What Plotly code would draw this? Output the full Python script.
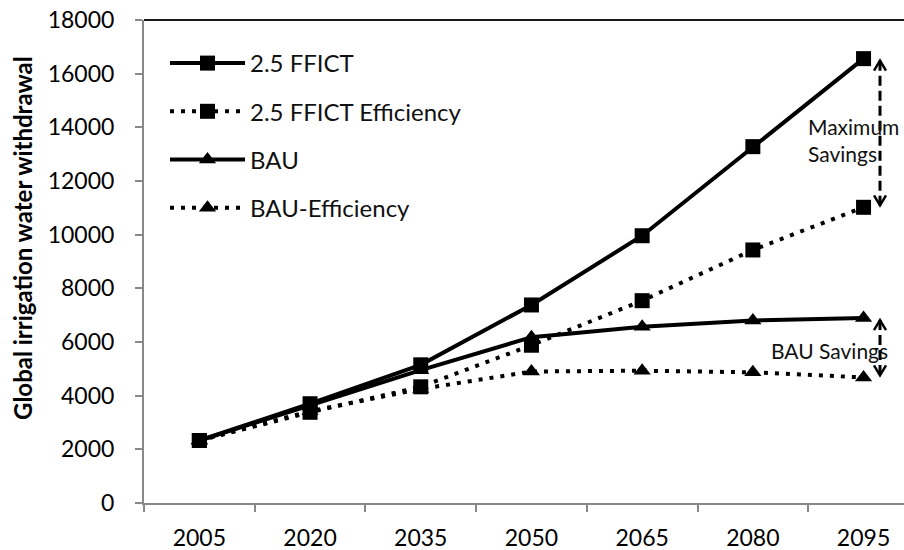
import plotly.graph_objects as go

years = ["2005", "2020", "2035", "2050", "2065", "2080", "2095"]
ffict = [2330, 3700, 5150, 7380, 9960, 13280, 16560]
ffict_eff = [2330, 3380, 4330, 5880, 7540, 9430, 11020]
bau = [2330, 3650, 4950, 6180, 6570, 6800, 6890]
bau_eff = [2330, 3420, 4250, 4900, 4930, 4870, 4680]
names = ["2.5 FFICT", "2.5 FFICT Efficiency", "BAU", "BAU-Efficiency"]

W, H = 904, 550
L, R, T, B = 144, 0, 20, 47
YMAX = 18000
FONT = "Lato"

fig = go.Figure()
series = [(ffict, "square", "solid"), (ffict_eff, "square", "4px,7px"),
          (bau, "triangle-up", "solid"), (bau_eff, "triangle-up", "4px,7px")]
for i, (vals, sym, dash) in enumerate(series):
    fig.add_trace(go.Scatter(
        x=years, y=vals, name=names[i], legendgroup=str(i),
        mode="lines+markers",
        line=dict(color="black", width=4, dash=dash),
        marker=dict(symbol=sym, size=15, color="black"),
    ))

plot_w = W - L - R
plot_h = H - T - B
def px_x(px):
    return (px - L) / plot_w
def px_y(py):
    return 1 - (py - T) / plot_h
def yp(v):
    return v / YMAX

shapes = []
shapes.append(dict(type="line", xref="paper", yref="paper", x0=0, x1=1, y0=1, y1=1,
                   line=dict(color="#1a1a1a", width=2)))

ax = px_x(880)
def dbl_arrow(top_v, bot_v):
    yt = yp(top_v) - 2 / plot_h
    yb = yp(bot_v) + 2 / plot_h
    shapes.append(dict(type="line", xref="paper", yref="paper", x0=ax, x1=ax, y0=yt, y1=yb,
                       line=dict(color="black", width=3, dash="10px,5px")))
    hw = 6 / plot_w
    hh = 10 / plot_h
    shapes.append(dict(type="path", xref="paper", yref="paper",
                       path=f"M {ax-hw} {yt-hh} L {ax} {yt} L {ax+hw} {yt-hh}",
                       line=dict(color="black", width=2.5)))
    shapes.append(dict(type="path", xref="paper", yref="paper",
                       path=f"M {ax-hw} {yb+hh} L {ax} {yb} L {ax+hw} {yb+hh}",
                       line=dict(color="black", width=2.5)))

dbl_arrow(ffict[-1], ffict_eff[-1])
dbl_arrow(bau[-1], bau_eff[-1])

afont = dict(family=FONT, size=21, color="#111")
annotations = [
    dict(text="Maximum", xref="paper", yref="paper", x=px_x(806), y=px_y(126),
         xanchor="left", yanchor="middle", showarrow=False, font=afont),
    dict(text="Savings", xref="paper", yref="paper", x=px_x(806), y=px_y(154),
         xanchor="left", yanchor="middle", showarrow=False, font=afont),
    dict(text="BAU Savings", xref="paper", yref="paper", x=px_x(769), y=px_y(350),
         xanchor="left", yanchor="middle", showarrow=False, font=afont),
    dict(text="<b>Global irrigation water withdrawal</b>", xref="paper", yref="paper",
         x=-(L - 22) / plot_w, y=px_y(238), textangle=-90,
         xanchor="center", yanchor="middle", showarrow=False,
         font=dict(family=FONT, size=24, color="black")),
]

fig.update_layout(
    width=W, height=H,
    margin=dict(l=L, r=R, t=T, b=B, pad=0),
    paper_bgcolor="white", plot_bgcolor="white",
    font=dict(family=FONT, color="black"),
    showlegend=True,
    legend=dict(x=px_x(165), y=px_y(41), xanchor="left", yanchor="top",
                bgcolor="rgba(0,0,0,0)", itemwidth=75, tracegroupgap=14,
                font=dict(family=FONT, size=24, color="#111")),
    shapes=shapes, annotations=annotations,
)
fig.update_xaxes(type="category", range=[-0.5, -0.5 + plot_w / 110.7], automargin=False,
                 showline=True, linecolor="#888888", linewidth=2,
                 ticks="outside", tickson="boundaries", ticklen=7, tickcolor="#888888", tickwidth=1.5,
                 showgrid=False, tickfont=dict(family=FONT, size=23, color="black"),
                 ticklabelstandoff=13)
fig.update_yaxes(range=[0, YMAX], dtick=2000, tickformat="d", automargin=False,
                 showline=True, linecolor="#888888", linewidth=2,
                 ticks="outside", ticklen=7, tickcolor="#888888", tickwidth=1.5,
                 showgrid=False, zeroline=False,
                 tickfont=dict(family=FONT, size=23, color="black"), ticklabelstandoff=16)

fig.write_html("out.html", config={"displayModeBar": False},
               post_script="document.body.style.margin='0';document.body.style.overflow='hidden';")
